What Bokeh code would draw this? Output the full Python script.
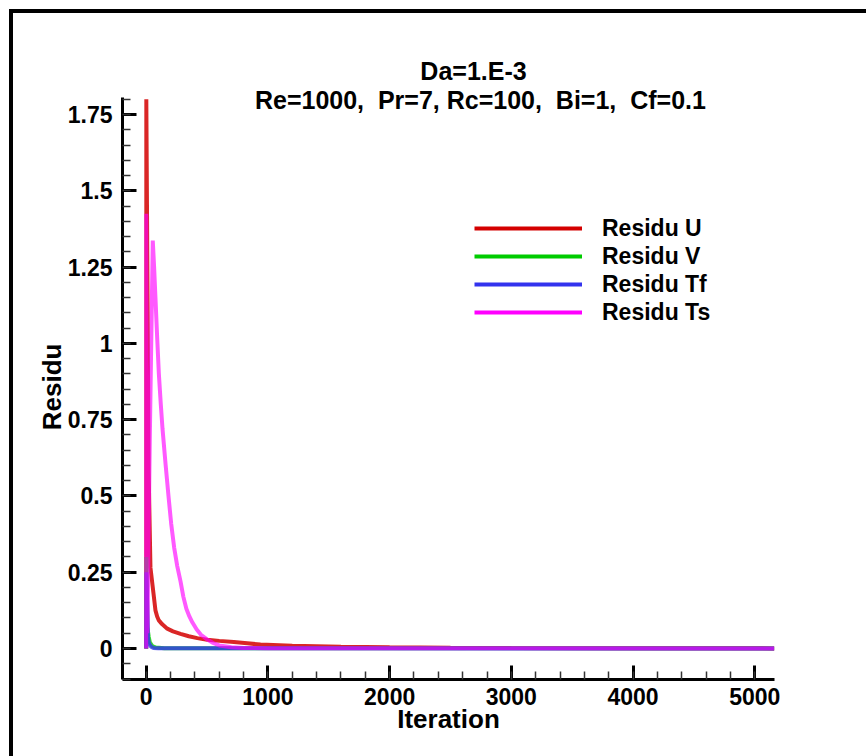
from bokeh.plotting import figure
from bokeh.models import (Range1d, SingleIntervalTicker, NumeralTickFormatter, Label,
                          Legend, LegendItem)
from bokeh.embed import file_html
from bokeh.resources import INLINE

# ---- data ----
iter_u = [0, 1, 20, 35, 60, 76, 90, 104, 130, 173, 220, 282, 350, 420, 501, 600, 720, 830, 939,
          1200, 1600, 2000, 2500, 3000, 4000, 5160]
res_u = [0.0, 1.80, 0.58, 0.265, 0.18, 0.125, 0.105, 0.092, 0.08, 0.065, 0.056, 0.048, 0.040, 0.034,
         0.029, 0.025, 0.021, 0.017, 0.013, 0.009, 0.006, 0.004, 0.0025, 0.0015, 0.0008, 0.0004]

iter_v = [0, 2, 10, 20, 30, 50, 80, 150, 5160]
res_v = [0.0, 0.3, 0.07, 0.04, 0.02, 0.008, 0.003, 0.001, 0.0]

iter_tf = [0, 2, 15, 25, 40, 60, 100, 5160]
res_tf = [0.0, 0.25, 0.03, 0.015, 0.006, 0.002, 0.0005, 0.0]

iter_ts = [0, 1, 10, 30, 54, 65, 76, 90, 104, 120, 134, 160, 183, 205, 230, 255, 282, 305, 330, 355,
           380, 415, 450, 500, 550, 600, 700, 800, 1000, 5160]
res_ts = [0.0, 1.425, 0.05, 0.7, 1.337, 1.25, 1.15, 1.02, 0.90, 0.80, 0.72, 0.60, 0.50, 0.41, 0.33,
          0.27, 0.22, 0.17, 0.13, 0.105, 0.085, 0.062, 0.045, 0.03, 0.018, 0.01, 0.004, 0.002,
          0.001, 0.0]

series_names = ["Residu U", "Residu V", "Residu Tf", "Residu Ts"]
series_colors = ["#d40000", "#00cc00", "#3333ee", "#ff00ff"]
series_alpha = [0.85, 0.8, 0.8, 0.65]

NBSP = "\u00a0"
title_line1 = "Da=1.E-3"
title_line2 = "Re=1000," + NBSP * 2 + "Pr=7, Rc=100," + NBSP * 2 + "Bi=1," + NBSP * 2 + "Cf=0.1"

# axis extents (the drawn axes); the plotting area is taller to hold the title
x_axis_bounds = (-195, 5162)
y_axis_bounds = (-0.1016, 1.805)

FONT = "Liberation Sans"
NAN = float("nan")

W, H = 866, 756
p = figure(width=W, height=H, output_backend="svg", toolbar_location=None,
           x_range=Range1d(-194.7, 5162), y_range=Range1d(-0.1016, 2.1236),
           min_border_left=122, min_border_right=92, min_border_top=0, min_border_bottom=77)
p.outline_line_color = None
p.grid.visible = False
p.background_fill_alpha = 0
p.border_fill_alpha = 0
p.styles = {"box-shadow": "inset 9px 9px 0 0 white, inset 13px 13px 0 0 black",
            "background-color": "white"}

p.xaxis.ticker = SingleIntervalTicker(interval=1000, num_minor_ticks=5)
p.yaxis.ticker = SingleIntervalTicker(interval=0.25, num_minor_ticks=5)
p.yaxis.formatter = NumeralTickFormatter(format="0.[00]")
p.xaxis.formatter = NumeralTickFormatter(format="0")
p.xaxis.bounds = x_axis_bounds
p.yaxis.bounds = y_axis_bounds

for ax in (p.xaxis, p.yaxis):
    ax.axis_line_width = 3
    ax.axis_line_color = "black"
    ax.major_tick_in = 14
    ax.major_tick_out = 0
    ax.minor_tick_in = 8
    ax.minor_tick_out = 0
    ax.major_tick_line_width = 3
    ax.minor_tick_line_width = 1.5
    ax.minor_tick_line_color = "#333333"
    ax.major_label_text_font = FONT
    ax.major_label_text_font_style = "bold"
    ax.major_label_text_font_size = "23px"
    ax.major_label_text_color = "black"
    ax.axis_label_text_font = FONT
    ax.axis_label_text_font_style = "bold"
    ax.axis_label_text_font_size = "26px"
    ax.axis_label_text_color = "black"

p.xaxis.axis_label = "Iteration"
# trailing no-break spaces move the rotated label down to the centre of the drawn axis
p.yaxis.axis_label = "Residu" + NBSP * 13
p.xaxis.major_label_standoff = 8
p.yaxis.major_label_standoff = 10
p.xaxis.axis_label_standoff = -4
p.yaxis.axis_label_standoff = -2

xs_all = [iter_u, iter_v, iter_tf, iter_ts]
ys_all = [res_u, res_v, res_tf, res_ts]
legend_items = []
for xs, ys, name, col, a in zip(xs_all, ys_all, series_names, series_colors, series_alpha):
    p.line(xs, ys, line_color=col, line_width=4, line_alpha=a)
    proxy = p.line(x=[NAN, NAN], y=[NAN, NAN], line_color=col, line_width=4)
    legend_items.append(LegendItem(label=name, renderers=[proxy]))

legend = Legend(items=legend_items, location=(352, 353), orientation="vertical",
                glyph_width=108, glyph_height=28, label_height=28, spacing=0, padding=0, margin=0,
                label_standoff=20, border_line_alpha=0, background_fill_alpha=0,
                label_text_font=FONT, label_text_font_style="bold", label_text_font_size="23px",
                label_text_color="black")
p.add_layout(legend)

for txt, xv, yv in ((title_line1, 2689, 1.894), (title_line2, 2746, 1.796)):
    p.add_layout(Label(x=xv, y=yv, text=txt, text_align="center", text_baseline="middle",
                       text_font=FONT, text_font_style="bold", text_font_size="25px",
                       text_color="black"))

open("out.html", "w").write(file_html(p, INLINE))
